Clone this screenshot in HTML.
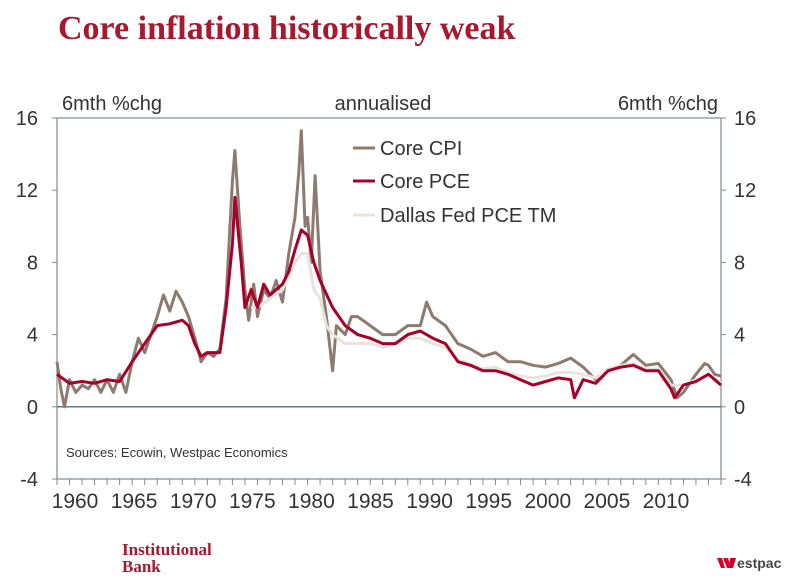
<!DOCTYPE html>
<html><head><meta charset="utf-8"><style>
body{margin:0;background:#fff;width:795px;height:581px;overflow:hidden;font-family:"Liberation Sans",sans-serif}
</style></head><body>
<svg width="795" height="581" xmlns="http://www.w3.org/2000/svg">
<text x="58" y="39" font-family="Liberation Serif" font-weight="bold" font-size="34" fill="#a6192e">Core inflation historically weak</text>
<text x="62" y="110" font-size="20" fill="#333">6mth %chg</text>
<text x="383" y="110" font-size="20" fill="#333" text-anchor="middle">annualised</text>
<text x="718" y="110" font-size="20" fill="#333" text-anchor="end">6mth %chg</text>
<rect x="57" y="118" width="664" height="361" fill="none" stroke="#7f8a92" stroke-width="1.2"/>
<g id="axes"></g>
<g id="series"></g>
<g>
<line x1="353" y1="148" x2="375" y2="148" stroke="#8c7b6e" stroke-width="3"/>
<text x="380" y="155" font-size="20" fill="#333">Core CPI</text>
<line x1="353" y1="181" x2="375" y2="181" stroke="#a6002b" stroke-width="3"/>
<text x="380" y="188" font-size="20" fill="#333">Core PCE</text>
<line x1="353" y1="215" x2="375" y2="215" stroke="#e9e3dc" stroke-width="3"/>
<text x="380" y="222" font-size="20" fill="#333">Dallas Fed PCE TM</text>
</g>
<text x="66" y="457" font-size="13" fill="#333">Sources: Ecowin, Westpac Economics</text>
<text x="122" y="555" font-family="Liberation Serif" font-weight="bold" font-size="17" fill="#a6192e">Institutional</text>
<text x="122" y="572" font-family="Liberation Serif" font-weight="bold" font-size="17" fill="#a6192e">Bank</text>
<g>
<polygon points="717,558 722,558 725,568 721,568" fill="#d5002b"/>
<polygon points="723,558 728,558 731,568 727,568" fill="#d5002b"/>
<polygon points="730,558 736,558 733,568 729,568" fill="#d5002b"/>
<text x="737" y="568" font-size="14" font-weight="bold" fill="#444">estpac</text>
</g>
</svg>
<script>
const yTicks=[-4,0,4,8,12,16];
const xTickYears=[1960,1965,1970,1975,1980,1985,1990,1995,2000,2005,2010];
const cpiYears=[1960,1960.3,1960.6,1961,1961.5,1962,1962.5,1963,1963.5,1964,1964.5,1965,1965.5,1966,1966.5,1967,1967.5,1968,1968.5,1969,1969.5,1970,1970.5,1971,1971.5,1972,1972.5,1973,1973.5,1974,1974.2,1974.6,1975,1975.3,1975.7,1976,1976.5,1977,1977.5,1978,1978.5,1979,1979.3,1979.5,1979.8,1980,1980.3,1980.6,1981,1981.5,1982,1982.3,1983,1983.5,1984,1985,1986,1987,1988,1989,1989.5,1990,1991,1992,1993,1994,1995,1996,1997,1998,1999,2000,2001,2002,2003,2004,2005,2006,2007,2008,2009,2009.5,2010,2011,2011.7,2012,2012.5,2013];
const cpiValues=[2.5,1.0,0,1.5,0.8,1.2,1.0,1.5,0.8,1.5,0.8,1.8,0.8,2.5,3.8,3.0,4.0,5.0,6.2,5.3,6.4,5.8,5.0,3.8,2.5,3.0,2.8,3.2,6.0,12.5,14.2,10,6.5,4.8,6.8,5.0,6.5,6.0,7.0,5.8,8.5,10.5,13,15.3,10,10.5,8,12.8,7.5,5,2.0,4.5,4.0,5.0,5.0,4.5,4.0,4.0,4.5,4.5,5.8,5.0,4.5,3.5,3.2,2.8,3.0,2.5,2.5,2.3,2.2,2.4,2.7,2.2,1.5,2.0,2.3,2.9,2.3,2.4,1.5,0.5,0.8,1.8,2.4,2.3,1.8,1.7];
const pceYears=[1960,1961,1962,1963,1964,1965,1966,1967,1968,1969,1970,1970.5,1971,1971.5,1972,1973,1973.5,1974,1974.2,1974.7,1975,1975.5,1976,1976.5,1977,1978,1978.5,1979,1979.5,1980,1980.5,1981,1982,1983,1984,1985,1986,1987,1988,1989,1990,1991,1992,1993,1994,1995,1996,1997,1998,1999,2000,2001,2001.3,2002,2003,2004,2005,2006,2007,2008,2009,2009.3,2010,2011,2012,2013];
const pceValues=[1.8,1.3,1.4,1.3,1.5,1.4,2.5,3.5,4.5,4.6,4.8,4.5,3.5,2.8,3.0,3.0,5.5,9,11.6,8,5.5,6.5,5.5,6.8,6.2,6.8,7.5,8.7,9.8,9.5,8,7,5.5,4.5,4.0,3.8,3.5,3.5,4.0,4.2,3.8,3.5,2.5,2.3,2.0,2.0,1.8,1.5,1.2,1.4,1.6,1.5,0.5,1.5,1.3,2.0,2.2,2.3,2.0,2.0,1.0,0.5,1.2,1.4,1.8,1.2];
const dallasYears=[1975.5,1976,1977,1978,1979,1979.5,1980,1980.5,1981,1981.5,1982,1983,1984,1985,1986,1987,1988,1989,1990,1991,1992,1993,1994,1995,1996,1997,1998,1999,2000,2001,2002,2003,2004,2005,2006,2007,2008,2009,2010,2011,2012,2013];
const dallasValues=[5.5,5.5,6.0,6.5,8.0,8.5,8.5,6.5,6,4.5,4.0,3.5,3.5,3.5,3.3,3.5,3.8,3.8,3.5,3.3,2.6,2.4,2.1,2.2,1.9,1.7,1.6,1.7,1.9,1.9,1.8,1.6,2.1,2.3,2.4,2.1,2.1,1.2,1.2,1.5,1.8,1.3];

const X0=57,X1=721,Y0=118,Y1=479;
const xs=yr=>X0+(yr-1960)/53*(X1-X0);
const xl=yr=>75+(yr-1960)*11.82;
const ys=v=>Y0+(16-v)/20*(Y1-Y0);
const NS='http://www.w3.org/2000/svg';
const axes=document.getElementById('axes');
function mk(tag,attrs,parent){const e=document.createElementNS(NS,tag);for(const k in attrs)e.setAttribute(k,attrs[k]);parent.appendChild(e);return e;}
yTicks.forEach(v=>{
  const l=mk('line',{x1:X0-5,x2:X0,y1:ys(v),y2:ys(v),stroke:'#7f8a92'},axes);
  
  
  const r=mk('line',{x1:X1,x2:X1+5,y1:ys(v),y2:ys(v),stroke:'#7f8a92'},axes);
  
  
  const t=mk('text',{x:38,y:ys(v)+7,'font-size':20,fill:'#333','text-anchor':'end'},axes);t.textContent=v;
  
  
  const t2=mk('text',{x:734,y:ys(v)+7,'font-size':20,fill:'#333'},axes);t2.textContent=v;
  
  
});
const z=mk('line',{x1:X0,x2:X1,y1:ys(0),y2:ys(0),stroke:'#6d767c','stroke-width':1.5},axes);


for(let yr=1960;yr<=2013;yr++){
  const l=mk('line',{x1:xs(yr),x2:xs(yr),y1:Y1,y2:Y1+6,stroke:'#7f8a92'},axes);
  
  
}
xTickYears.forEach(yr=>{
  const t=mk('text',{x:xl(yr),y:Y1+29,'font-size':21,fill:'#333','text-anchor':'middle'},axes);t.textContent=yr;
  
  
});
const ser=document.getElementById('series');
function line(xv,yv,color,name){
  const d=xv.map((x,i)=>(i?'L':'M')+xs(x).toFixed(1)+','+ys(yv[i]).toFixed(1)).join('');
  const p=mk('path',{d:d,fill:'none',stroke:color,'stroke-width':3,'stroke-linejoin':'round'},ser);
  
  
}
line(cpiYears,cpiValues,'#8c7b6e','core-cpi-line');
line(dallasYears,dallasValues,'#e9e3dc','dallas-fed-pce-tm-line');
line(pceYears,pceValues,'#a6002b','core-pce-line');
</script>
</body></html>
